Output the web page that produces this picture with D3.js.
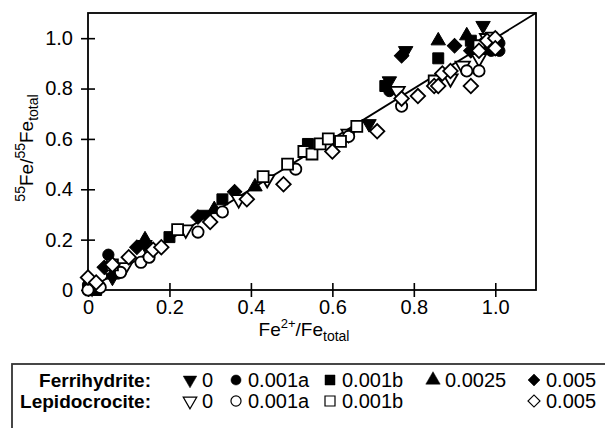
<!DOCTYPE html>
<meta charset="utf-8">
<script src="https://d3js.org/d3.v7.min.js"></script>
<style>
  body { margin: 0; background: #fff; }
  text { font-family: "Liberation Sans", Arial, Helvetica, sans-serif; fill: #000; }
</style>
<div id="chart"></div>
<script>
// x = Fe2+/Fe_total, y = 55Fe/55Fe_total
var ferri0    = [[0.01,0.02],[0.06,0.05],[0.14,0.18],[0.29,0.30],[0.69,0.66],[0.74,0.83],[0.78,0.95],[0.97,1.05]];
var ferri001a = [[0.00,0.02],[0.05,0.14],[0.74,0.79],[0.97,0.96],[0.99,0.95],[1.01,0.98],[1.01,0.95]];
var ferri001b = [[0.02,0.00],[0.20,0.21],[0.33,0.36],[0.54,0.58],[0.73,0.81],[0.86,0.92],[0.94,0.99],[0.98,0.96]];
var ferri0025 = [[0.06,0.06],[0.14,0.20],[0.31,0.32],[0.41,0.41],[0.86,0.99],[0.93,1.01]];
var ferri005  = [[0.04,0.09],[0.12,0.17],[0.27,0.29],[0.36,0.39],[0.77,0.93],[0.90,0.97],[0.94,0.95],[0.97,0.98]];

var lepi0    = [[0.01,0.01],[0.09,0.09],[0.24,0.24],[0.37,0.36],[0.44,0.44],[0.64,0.62],[0.76,0.79],[0.89,0.84],[0.92,0.89],[0.96,0.92],[0.98,1.00]];
var lepi001a = [[0.00,0.00],[0.03,0.01],[0.08,0.07],[0.13,0.11],[0.15,0.13],[0.27,0.23],[0.33,0.31],[0.51,0.48],[0.64,0.61],[0.77,0.73],[0.93,0.87],[0.96,0.87],[0.99,0.99]];
var lepi001b = [[0.06,0.10],[0.22,0.24],[0.43,0.45],[0.49,0.50],[0.53,0.55],[0.55,0.54],[0.57,0.58],[0.59,0.60],[0.62,0.59],[0.66,0.65],[0.85,0.83],[0.96,0.97],[0.99,1.00]];
var lepi005  = [[0.00,0.05],[0.02,0.03],[0.06,0.10],[0.10,0.13],[0.16,0.16],[0.18,0.17],[0.30,0.27],[0.39,0.36],[0.48,0.42],[0.60,0.55],[0.71,0.63],[0.77,0.76],[0.81,0.77],[0.85,0.81],[0.86,0.81],[0.87,0.86],[0.89,0.87],[0.94,0.81],[0.96,0.95],[0.98,0.99],[1.00,1.00],[1.00,0.96]];

var ticks = [0, 0.2, 0.4, 0.6, 0.8, 1.0];
var rowLabels = ["Ferrihydrite:", "Lepidocrocite:"];
var ferriLabels = ["0", "0.001a", "0.001b", "0.0025", "0.005"];
var lepiLabels  = ["0", "0.001a", "0.001b", null, "0.005"];

// set the dimensions and margins of the graph
var margin = {top: 13, right: 69, bottom: 138, left: 88},
    width = 605 - margin.left - margin.right,
    height = 428 - margin.top - margin.bottom;

var root = d3.select("#chart")
  .append("svg")
    .attr("width", 605)
    .attr("height", 428);

var svg = root.append("g")
    .attr("transform", "translate(" + margin.left + "," + margin.top + ")");

var x = d3.scaleLinear().domain([0, 1.1]).range([0, width]);
var y = d3.scaleLinear().domain([0, 1.1]).range([height, 0]);

var fmt = function(d) { return d === 0 ? "0" : d3.format(".1f")(d); };

// frame
svg.append("rect")
  .attr("x", 0).attr("y", 0)
  .attr("width", width).attr("height", height)
  .attr("fill", "none").attr("stroke", "#000").attr("stroke-width", 1.8);

// X axis, ticks crossing the axis
var gx = svg.append("g")
  .attr("transform", "translate(0," + height + ")")
  .call(d3.axisBottom(x).tickValues(ticks).tickFormat(fmt).tickSize(7).tickPadding(3));
gx.selectAll(".tick line").attr("y1", -7).attr("stroke-width", 1.6);
gx.select(".domain").remove();
gx.selectAll("text").style("font-size", "20px").attr("fill", "#000");

// Y axis
var gy = svg.append("g")
  .call(d3.axisLeft(y).tickValues(ticks).tickFormat(fmt).tickSize(7).tickPadding(8));
gy.selectAll(".tick line").attr("x1", 7).attr("stroke-width", 1.6);
gy.select(".domain").remove();
gy.selectAll("text").style("font-size", "20px").attr("fill", "#000");

// X label
var xl = root.append("text")
  .attr("x", 304).attr("y", 336)
  .attr("text-anchor", "middle")
  .style("font-size", "19px");
xl.append("tspan").text("Fe");
xl.append("tspan").attr("dy", -8).style("font-size", "13px").text("2+");
xl.append("tspan").attr("dy", 8).text("/Fe");
xl.append("tspan").attr("dy", 5).style("font-size", "14px").text("total");

// Y label
var yl = root.append("text")
  .attr("transform", "translate(33,148) rotate(-90)")
  .attr("text-anchor", "middle")
  .style("font-size", "19px");
yl.append("tspan").attr("dy", -8).style("font-size", "14px").text("55");
yl.append("tspan").attr("dy", 8).text("Fe/");
yl.append("tspan").attr("dy", -8).style("font-size", "14px").text("55");
yl.append("tspan").attr("dy", 8).text("Fe");
yl.append("tspan").attr("dy", 5).style("font-size", "14px").text("total");

// 1:1 line
svg.append("line")
  .attr("x1", x(0)).attr("y1", y(0))
  .attr("x2", x(1.1)).attr("y2", y(1.1))
  .attr("stroke", "#000").attr("stroke-width", 1.8);

// marker shapes
var shapes = {
  down:    {type: d3.symbolTriangle, size: 90, rot: 180},
  circle:  {type: d3.symbolCircle,   size: 100, rot: 0},
  square:  {type: d3.symbolSquare,   size: 120, rot: 0},
  up:      {type: d3.symbolTriangle, size: 90, rot: 0},
  diamond: {type: d3.symbolSquare,   size: 105, rot: 45}
};

var series = [
  {data: ferri0,    shape: "down",    filled: true},
  {data: ferri001a, shape: "circle",  filled: true},
  {data: ferri001b, shape: "square",  filled: true},
  {data: ferri0025, shape: "up",      filled: true},
  {data: ferri005,  shape: "diamond", filled: true},
  {data: lepi0,    shape: "down",    filled: false},
  {data: lepi001a, shape: "circle",  filled: false},
  {data: lepi001b, shape: "square",  filled: false},
  {data: lepi005,  shape: "diamond", filled: false}
];

series.forEach(function(s) {
  var sh = shapes[s.shape];
  svg.append("g")
    .selectAll("path")
    .data(s.data)
    .enter()
    .append("path")
      .attr("d", d3.symbol().type(sh.type).size(sh.size))
      .attr("transform", function(d) { return "translate(" + x(d[0]) + "," + y(d[1]) + ") rotate(" + sh.rot + ")"; })
      .attr("fill", s.filled ? "#000" : "#fff")
      .attr("stroke", "#000")
      .attr("stroke-width", s.filled ? 1 : 1.8);
});

// ---------------------------//
//       LEGEND               //
// ---------------------------//
root.append("rect")
  .attr("x", 12).attr("y", 364)
  .attr("width", 620).attr("height", 80)
  .attr("fill", "none").attr("stroke", "#333").attr("stroke-width", 1.8);

var rowY = [387, 408];
var symX = [190, 236, 330, 433, 534];
var legendShapes = ["down", "circle", "square", "up", "diamond"];
var legendSize = {down: 80, circle: 80, square: 100, up: 90, diamond: 72};

rowLabels.forEach(function(lbl, r) {
  root.append("text")
    .attr("x", 151).attr("y", rowY[r])
    .attr("text-anchor", "end")
    .style("font-size", "19px").style("font-weight", "bold")
    .text(lbl);
  var labels = r === 0 ? ferriLabels : lepiLabels;
  labels.forEach(function(t, i) {
    if (t === null) return;
    var sh = shapes[legendShapes[i]];
    root.append("path")
      .attr("d", d3.symbol().type(sh.type).size(legendSize[legendShapes[i]]))
      .attr("transform", "translate(" + symX[i] + "," + (rowY[r] - 7) + ") rotate(" + sh.rot + ")")
      .attr("fill", r === 0 ? "#000" : "#fff")
      .attr("stroke", "#000")
      .attr("stroke-width", r === 0 ? 0.5 : 1.2);
    root.append("text")
      .attr("x", symX[i] + 12).attr("y", rowY[r])
      .style("font-size", "20px")
      .text(t);
  });
});
</script>
